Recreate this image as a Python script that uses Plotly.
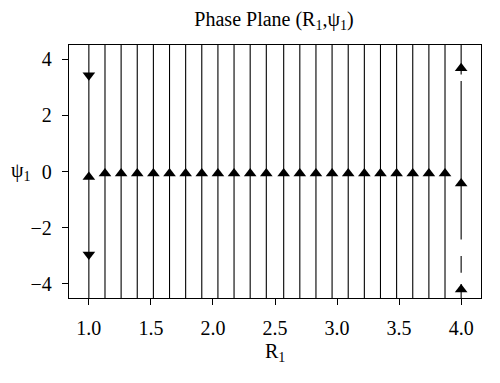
import plotly.graph_objects as go

# streamline x positions (R1)
stream_x = [1.0, 1.13, 1.26, 1.39, 1.52, 1.65, 1.78, 1.91, 2.04, 2.17, 2.30, 2.43,
            2.57, 2.70, 2.83, 2.96, 3.09, 3.22, 3.35, 3.48, 3.61, 3.74, 3.87, 4.0]
y_low, y_high = -4.5, 4.5

# broken streamline at R1 = 4.0 (segments of psi1)
edge_segments = [(4.5, 3.45), (3.22, -2.42), (-3.01, -3.6), (-4.0, -4.5)]

# arrow heads
up_x = stream_x[1:-1] + [1.0, 4.0, 4.0, 4.0]
up_y = [-0.07] * (len(stream_x) - 2) + [-0.2, 3.67, -0.43, -4.2]
down_x = [1.0, 1.0]
down_y = [3.42, -2.95]

lx, ly = [], []
for x in stream_x[:-1]:
    lx += [x, x, None]
    ly += [y_low, y_high, None]
for a, b in edge_segments:
    lx += [stream_x[-1], stream_x[-1], None]
    ly += [a, b, None]

fig = go.Figure()
fig.add_trace(go.Scatter(x=lx, y=ly, mode="lines",
                         line=dict(color="black", width=1.1), hoverinfo="skip"))
fig.add_trace(go.Scatter(x=up_x, y=up_y, mode="markers",
                         marker=dict(symbol="triangle-up", size=11, color="black")))
fig.add_trace(go.Scatter(x=down_x, y=down_y, mode="markers",
                         marker=dict(symbol="triangle-down", size=11, color="black")))

font = "Liberation Serif"
fs = 20
tf = dict(family=font, size=fs, color="black")
fig.update_layout(
    width=500, height=383,
    margin=dict(l=69, r=19, t=45, b=85),
    plot_bgcolor="white", paper_bgcolor="white",
    showlegend=False,
    font=tf,
    title=dict(text="Phase Plane (R<sub>1</sub>,ψ<sub>1</sub>)", x=0.548, xanchor="center",
               y=0.950, yanchor="middle", font=tf),
    xaxis=dict(range=[0.84, 4.16], tickvals=[1.0, 1.5, 2.0, 2.5, 3.0, 3.5, 4.0],
               ticktext=["1.0", "1.5", "2.0", "2.5", "3.0", "3.5", "4.0"],
               ticks="outside", ticklen=6, tickwidth=1.2, tickcolor="black",
               showline=True, linecolor="black", linewidth=1.3, mirror=True,
               showgrid=False, zeroline=False, tickfont=tf, ticklabelstandoff=6),
    yaxis=dict(range=[-4.5, 4.5], tickvals=[-4, -2, 0, 2, 4],
               ticktext=["−4", "−2", "0", "2", "4"],
               ticks="outside", ticklen=6, tickwidth=1.2, tickcolor="black",
               showline=True, linecolor="black", linewidth=1.3, mirror=True,
               showgrid=False, zeroline=False, tickfont=tf, ticklabelstandoff=6),
)
fig.add_annotation(text="R<sub>1</sub>", xref="paper", yref="paper", x=0.5, y=-0.215,
                   showarrow=False, font=tf, yanchor="middle")
fig.add_annotation(text="ψ<sub>1</sub>", xref="paper", yref="paper", x=-0.117, y=0.5,
                   showarrow=False, font=tf, xanchor="center")
fig.write_html("out.html", config={"displayModeBar": False},
               post_script="document.body.style.margin='0';document.body.style.overflow='hidden';")
